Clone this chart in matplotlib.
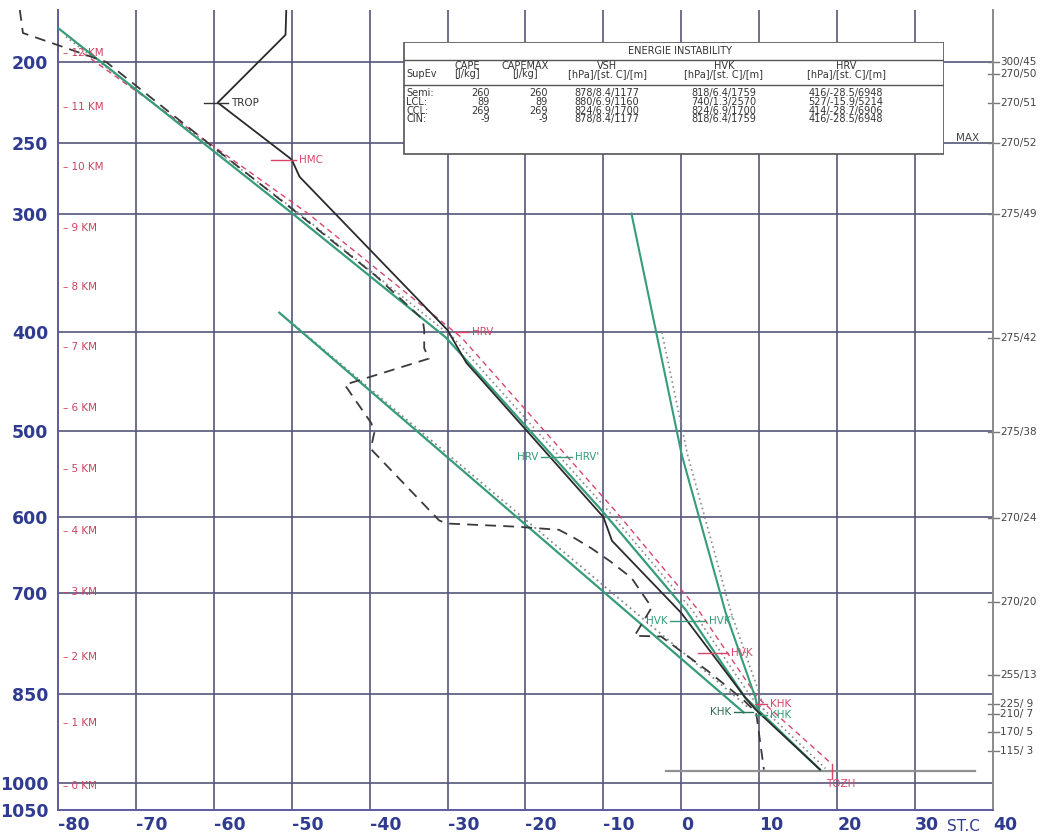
import numpy as np
import matplotlib
matplotlib.use("Agg")
import matplotlib.pyplot as plt
from matplotlib.patches import Rectangle

W, H = 1044, 838

# ---- sounding data (pressure hPa, temperature deg C) ----
temp_p = [172, 185, 224, 261, 273, 398, 429, 600, 630, 728, 856, 875, 977]
temp_t = [-50.7, -50.8, -59.5, -50.0, -49.0, -30.0, -27.6, -10.0, -8.9, 0.0, 8.2, 9.5, 17.8]

dew_p = [172, 184, 190, 200, 250, 300, 350, 388, 398, 415, 425, 451, 491, 501, 513, 520,
         604, 608, 612, 616, 626, 640, 657, 679, 720, 761, 762, 815, 860, 880, 977]
dew_t = [-84.9, -84.5, -80.4, -73.8, -60.7, -49.2, -39.2, -33.2, -33.0, -33.0, -32.4, -43.2,
         -39.8, -39.4, -39.7, -39.8, -31.1, -30.2, -21.2, -15.7, -13.8, -11.5, -9.1, -6.4,
         -3.8, -6.0, -2.6, 3.5, 8.0, 9.6, 10.6]

# parcel ascent (moist branch and surface dry branch)
parcel_p = [181, 300, 405, 592, 724, 856, 977]
parcel_t = [-80.1, -49.9, -30.2, -10.2, 0.6, 8.2, 17.8]
parcel_v_p = [186, 300, 405, 592, 724, 856, 975]
parcel_v_t = [-79.0, -49.0, -29.3, -9.4, 1.4, 9.0, 18.5]
parcel_r_p = [195, 300, 405, 592, 724, 856, 967]
parcel_r_t = [-76.8, -47.9, -28.2, -8.5, 2.2, 9.8, 19.3]

# surface dry adiabat
dry_p = [382, 880]
dry_t = [-51.6, 8.0]
dry_v_p = [390, 872]
dry_v_t = [-50.2, 8.6]

# saturation mixing-ratio line through the surface dew point
mix_p = [300, 526, 728, 856, 880]
mix_t = [-6.4, 0.05, 5.7, 9.5, 9.9]
mix_v_p = [400, 526, 728, 856, 878]
mix_v_t = [-2.5, 0.8, 6.4, 10.2, 10.6]

surface_p = 979
surface_t = [-2.0, 37.7]

# axes ticks
p_ticks = [200, 250, 300, 400, 500, 600, 700, 850, 1000, 1050]
t_ticks = [-80, -70, -60, -50, -40, -30, -20, -10, 0, 10, 20, 30, 40]

# height scale (km) and the pressure where each mark sits
km_labels = ["0 KM", "1 KM", "2 KM", "3 KM", "4 KM", "5 KM", "6 KM", "7 KM",
             "8 KM", "9 KM", "10 KM", "11 KM", "12 KM"]
km_p = [1006, 897, 793, 699, 618, 542, 475, 414, 359, 311, 266, 227, 195]

# wind (direction/speed) at levels
wind_labels = ["300/45", "270/50", "270/51", "270/52", "275/49", "275/42", "275/38",
               "270/24", "270/20", "255/13", "225/ 9", "210/ 7", "170/ 5", "115/ 3"]
wind_p = [200, 207, 224, 250, 300, 405, 501, 601, 713, 820, 866, 882, 912, 944]

# instability table
table_title = "ENERGIE INSTABILITY"
table_head1 = ["", "CAPE", "CAPEMAX", "VSH", "HVK", "HRV"]
table_head2 = ["SupEv", "[J/kg]", "[J/kg]", "[hPa]/[st. C]/[m]", "[hPa]/[st. C]/[m]", "[hPa]/[st. C]/[m]"]
table_rows = [
    ["Semi:", "260", "260", "878/8.4/1177", "818/6.4/1759", "416/-28.5/6948"],
    ["LCL:", "89", "89", "880/6.9/1160", "740/1.3/2570", "527/-15.9/5214"],
    ["CCL:", "269", "269", "824/6.9/1700", "824/6.9/1700", "414/-28.7/6906"],
    ["CIN:", "-9", "-9", "878/8.4/1177", "818/6.4/1759", "416/-28.5/6948"],
]

GREEN = "#369c7a"
RED = "#d9466a"
GRID = "#55557a"
BLUE = "#2f3b8f"
FONT = "DejaVu Sans"
SMALL = 7.5


def fwd(p):
    return np.power(np.clip(p, 1e-6, None), 0.286)


def inv(s):
    return np.power(np.clip(s, 1e-6, None), 1.0 / 0.286)


fig = plt.figure(figsize=(W / 100, H / 100), dpi=100)
fig.patch.set_facecolor("white")
ax = fig.add_axes([58 / W, 1 - 810 / H, (993 - 58) / W, (810 - 10) / H])
ax.set_xlim(-80, 40)
ax.set_yscale("function", functions=(fwd, inv))
ax.set_ylim(1050, 172)

# grid
for t in t_ticks[1:-1]:
    ax.axvline(t, color=GRID, lw=1.2, zorder=1)
for p in p_ticks[:-1]:
    ax.axhline(p, color=GRID, lw=1.2, zorder=1)

ax.spines["top"].set_visible(False)
ax.spines["left"].set_color("#5b5ba0")
ax.spines["bottom"].set_color("#5b5ba0")
ax.spines["right"].set_color("#8a8a8a")
for s in ["left", "bottom", "right"]:
    ax.spines[s].set_linewidth(1.4)

ax.set_yticks(p_ticks)
ax.set_yticklabels([str(p) for p in p_ticks])
ax.yaxis.set_minor_locator(matplotlib.ticker.NullLocator())
ax.set_xticks(t_ticks)
ax.set_xticklabels([str(t) for t in t_ticks])
ax.tick_params(axis="both", length=0, colors=BLUE, labelsize=12.5)
ax.tick_params(axis="y", pad=7)
ax.tick_params(axis="x", pad=4)
for lbl in ax.get_yticklabels() + ax.get_xticklabels():
    lbl.set_fontweight("bold")
    lbl.set_family(FONT)
for lbl in ax.get_xticklabels():
    lbl.set_horizontalalignment("left")
fig.text(947 / W, 1 - 826 / H, "ST.C", color=BLUE, fontsize=11, ha="left", va="center",
         family=FONT)

# surface level line
ax.plot(surface_t, [surface_p, surface_p], color="#909090", lw=1.6, zorder=2)

# companion curves
ax.plot(parcel_v_t, parcel_v_p, color="#8a8a8a", lw=1.2, ls=(0, (1, 2)), zorder=3)
ax.plot(parcel_r_t, parcel_r_p, color=RED, lw=1.0, ls=(0, (4, 3)), zorder=3)
ax.plot(dry_v_t, dry_v_p, color="#8a8a8a", lw=1.3, ls=(0, (1, 2)), zorder=3)
ax.plot(mix_v_t, mix_v_p, color="#8a8a8a", lw=1.2, ls=(0, (1, 2)), zorder=3)

# main curves
ax.plot(parcel_t, parcel_p, color=GREEN, lw=1.6, zorder=4)
ax.plot(dry_t, dry_p, color=GREEN, lw=1.6, zorder=4)
ax.plot(mix_t, mix_p, color=GREEN, lw=1.5, zorder=4)
ax.plot(dew_t, dew_p, color="#3a3a3a", lw=1.3, ls=(0, (6, 4)), zorder=5, clip_on=False)
ax.plot(temp_t, temp_p, color="#2a2a2a", lw=1.3, zorder=6)

# height scale
for lab, p in zip(km_labels, km_p):
    ax.text(-79.4, p, "\u2013 " + lab, color="#c8425e", fontsize=SMALL, va="center",
            ha="left", family=FONT, zorder=7)

# wind column
for lab, p in zip(wind_labels, wind_p):
    ax.plot([0.995, 1.006], [p, p], transform=ax.get_yaxis_transform(), color="#777",
            lw=1.0, clip_on=False)
    ax.text(1.008, p, lab, transform=ax.get_yaxis_transform(), fontsize=SMALL,
            color="#444", va="center", ha="left", family=FONT)
ax.text(0.985, 250, "MAX", transform=ax.get_yaxis_transform(), fontsize=SMALL,
        color="#444", va="bottom", ha="right", family=FONT)


def tag(t0, t1, p, text, color, side="right"):
    ax.plot([t0, t1], [p, p], color=color, lw=1.0, zorder=7)
    if side == "right":
        ax.text(t1 + 0.4, p, text, color=color, fontsize=SMALL, va="center", ha="left",
                family=FONT, zorder=7)
    else:
        ax.text(t0 - 0.4, p, text, color=color, fontsize=SMALL, va="center", ha="right",
                family=FONT, zorder=7)


tag(-61.2, -58.2, 224, "TROP", "#333333")
tag(-52.6, -49.5, 261, "HMC", RED)
tag(-29.0, -27.3, 400, "HRV", RED)
tag(-18.0, -14.0, 529, "HRV'", GREEN)
ax.text(-18.3, 529, "HRV", color=GREEN, fontsize=SMALL, va="center", ha="right", family=FONT)
tag(-1.5, 3.2, 740, "HVK'", GREEN)
ax.text(-1.8, 740, "HVK", color=GREEN, fontsize=SMALL, va="center", ha="right", family=FONT)
tag(2.2, 6.0, 786, "HVK", RED)
tag(9.4, 11.0, 866, "KHK", RED)
tag(9.4, 11.0, 884, "KHK", GREEN)
tag(6.8, 9.2, 880, "KHK", "#2f6f55", side="left")
ax.plot([19.3, 19.3], [967, 992], color=RED, lw=1.0, zorder=7)
ax.text(18.6, 1002, "TOZH", color=RED, fontsize=SMALL, va="center", ha="left", family=FONT)

# instability table
tab = fig.add_axes([403 / W, 1 - 155 / H, 541 / W, 113 / H])
tab.set_xlim(403, 944)
tab.set_ylim(155, 42)
tab.axis("off")
tab.set_zorder(10)
tab.add_patch(Rectangle((403.5, 42.5), 540, 112, facecolor="white", edgecolor="#555",
                        lw=1.2))
tab.plot([403.5, 943.5], [60, 60], color="#555", lw=1.0)
tab.plot([403.5, 943.5], [85, 85], color="#555", lw=1.0)
TF = dict(fontsize=7, family=FONT, color="#333")
tab.text(680, 51, table_title, ha="center", va="center", **TF)
col_x = [406, 467, 525, 607, 724, 846]
for i, (h1, h2) in enumerate(zip(table_head1, table_head2)):
    if i == 0:
        tab.text(col_x[i], 74, h2, ha="left", va="center", **TF)
    else:
        tab.text(col_x[i], 66, h1, ha="center", va="center", **TF)
        tab.text(col_x[i], 74, h2, ha="center", va="center", **TF)
row_y = [93, 102, 111, 119]
num_right = [None, 490, 548]
for row, y in zip(table_rows, row_y):
    tab.text(col_x[0], y, row[0], ha="left", va="center", **TF)
    tab.text(num_right[1], y, row[1], ha="right", va="center", **TF)
    tab.text(num_right[2], y, row[2], ha="right", va="center", **TF)
    for j in (3, 4, 5):
        tab.text(col_x[j], y, row[j], ha="center", va="center", **TF)

fig.savefig("out.png", dpi=100, facecolor="white")
